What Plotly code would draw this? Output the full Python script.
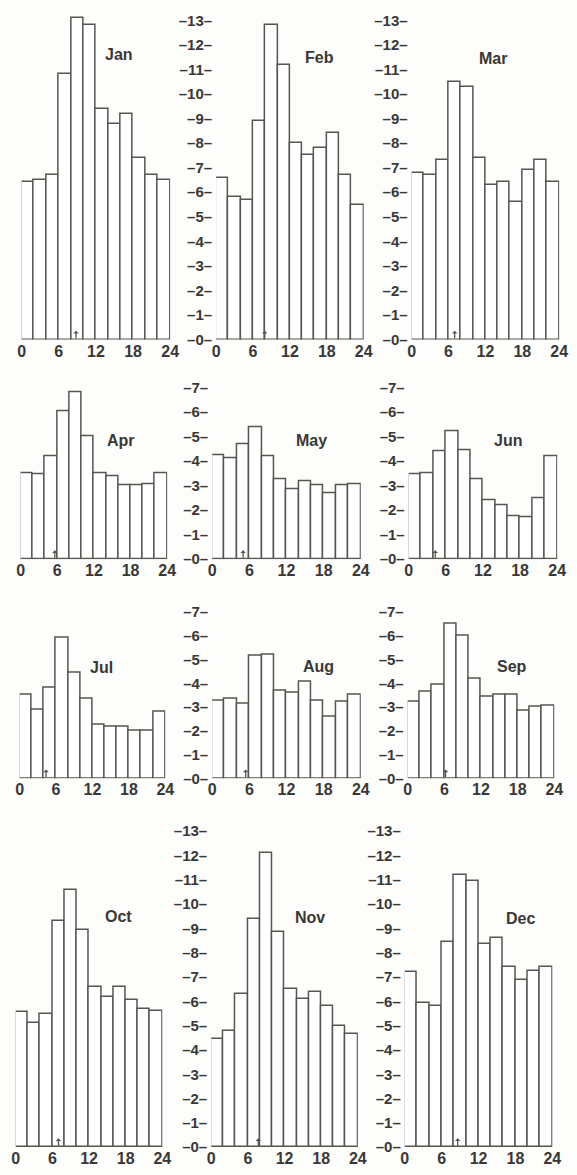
import plotly.graph_objects as go

# ---------------- data ----------------
months = ["Jan", "Feb", "Mar", "Apr", "May", "Jun",
          "Jul", "Aug", "Sep", "Oct", "Nov", "Dec"]
hour_starts = [0, 2, 4, 6, 8, 10, 12, 14, 16, 18, 20, 22]
bin_width = 2

jan = [6.4, 6.5, 6.7, 10.8, 13.1, 12.8, 9.4, 8.8, 9.2, 7.4, 6.7, 6.5]
feb = [6.6, 5.8, 5.7, 8.9, 12.8, 11.2, 8.0, 7.5, 7.8, 8.4, 6.7, 5.5]
mar = [6.8, 6.7, 7.3, 10.5, 10.3, 7.4, 6.3, 6.4, 5.6, 6.9, 7.3, 6.4]
apr = [3.5, 3.45, 4.2, 6.05, 6.8, 5.0, 3.5, 3.4, 3.0, 3.0, 3.05, 3.5]
may = [4.25, 4.1, 4.7, 5.4, 4.2, 3.25, 2.85, 3.2, 3.0, 2.7, 3.0, 3.05]
jun = [3.45, 3.5, 4.4, 5.2, 4.45, 3.25, 2.4, 2.2, 1.75, 1.7, 2.5, 4.2]
jul = [3.5, 2.9, 3.8, 5.9, 4.45, 3.35, 2.25, 2.15, 2.15, 2.0, 2.0, 2.8]
aug = [3.25, 3.35, 3.15, 5.15, 5.2, 3.7, 3.6, 4.05, 3.25, 2.6, 3.2, 3.5]
sep = [3.2, 3.65, 3.95, 6.5, 6.0, 4.2, 3.45, 3.5, 3.5, 2.85, 3.0, 3.05]
oct_ = [5.55, 5.1, 5.5, 9.3, 10.6, 8.95, 6.6, 6.2, 6.6, 6.05, 5.7, 5.6]
nov = [4.45, 4.8, 6.3, 9.4, 12.1, 8.85, 6.5, 6.1, 6.4, 5.8, 5.0, 4.65]
dec = [7.2, 5.95, 5.8, 8.45, 11.2, 10.95, 8.35, 8.6, 7.4, 6.9, 7.25, 7.4]

# small arrow marks at the base of each panel (hour)
marks = [8.8, 7.9, 7.0, 5.6, 5.0, 4.3, 4.35, 5.4, 6.2, 7.0, 7.7, 8.6]

series = [jan, feb, mar, apr, may, jun, jul, aug, sep, oct_, nov, dec]

x_ticks = [0, 6, 12, 18, 24]
y_ticks_big = list(range(0, 14))
y_ticks_small = list(range(0, 8))

# ---------------- layout geometry (pixels) ----------------
W, H = 577, 1175
col_px = [
    [(18, 170), (217, 368), (417, 568)],
    [(17, 167), (213, 365), (414, 566)],
    [(16, 165), (213, 365), (413, 563)],
    [(12, 162), (212, 362), (410, 561)],
]
row_px = [(11.0, 340.5), (381.5, 562.0), (608.0, 783.0), (829.0, 1155.0)]
row_top = [13.3, 7.3, 7.3, 13.3]
label_pos = [(15.8, 11.6), (16.8, 11.5), (13.2, 11.45),
             (16.5, 4.86), (16.1, 4.86), (16.1, 4.86),
             (13.5, 4.67), (17.2, 4.7), (17.1, 4.7),
             (16.8, 9.5), (16.2, 9.45), (18.8, 9.4)]

ink = "#585450"
text_col = "#3a3836"
font_fam = "Liberation Sans Narrow, Liberation Sans, Arial, sans-serif"

fig = go.Figure()
layout = dict(
    width=W, height=H,
    margin=dict(l=0, r=0, t=0, b=0),
    paper_bgcolor="#fdfdfb",
    plot_bgcolor="rgba(0,0,0,0)",
    showlegend=False,
    bargap=0,
)
annotations = []

bin_centres = [h + bin_width / 2 for h in hour_starts]

for i, (m, vals) in enumerate(zip(months, series)):
    r, c = divmod(i, 3)
    n = i + 1
    xa = "x" if n == 1 else f"x{n}"
    ya = "y" if n == 1 else f"y{n}"
    fig.add_trace(go.Bar(
        x=bin_centres, y=vals, width=[bin_width] * len(vals),
        marker=dict(color="white", line=dict(color=ink, width=1.5)),
        xaxis=xa, yaxis=ya, hoverinfo="x+y",
    ))
    x0, x1 = col_px[r][c]
    y0, y1 = row_px[r]
    px_per_unit = (y1 - y0) / row_top[r]
    ticks = y_ticks_big if row_top[r] > 10 else y_ticks_small
    layout["xaxis" if n == 1 else f"xaxis{n}"] = dict(
        domain=[x0 / W, x1 / W], range=[0, 24], anchor=ya,
        tickvals=x_ticks, ticktext=[str(t) for t in x_ticks],
        showgrid=False, zeroline=False, showline=False, ticks="",
        tickfont=dict(family=font_fam, size=16, color=text_col,
                      weight="bold"),
        ticklabelstandoff=0, fixedrange=True,
    )
    layout["yaxis" if n == 1 else f"yaxis{n}"] = dict(
        domain=[1 - y1 / H, 1 - y0 / H], range=[0, row_top[r]],
        anchor=xa, showgrid=False, zeroline=False, showline=False,
        tickvals=ticks, ticktext=[f"\u2013{t}\u2013" for t in ticks],
        showticklabels=(c != 0), ticks="",
        tickfont=dict(family=font_fam, size=15, color=text_col,
                      weight="bold"),
        ticklabelstandoff=3, fixedrange=True,
    )
    lx, ly = label_pos[i]
    annotations.append(dict(
        x=lx, y=ly, xref=xa, yref=ya, text=m, showarrow=False,
        font=dict(family=font_fam, size=16, color=text_col, weight="bold"),
    ))
    # small upward arrow at base
    annotations.append(dict(
        x=marks[i], y=9 / px_per_unit, xref=xa, yref=ya, text="",
        showarrow=True, arrowhead=1, arrowsize=0.7, arrowwidth=1.3,
        arrowcolor=ink, ax=0, ay=9, standoff=0, startstandoff=0,
    ))

layout["annotations"] = annotations
fig.update_layout(**layout)
fig.write_html(
    "out.html",
    config={"displayModeBar": False},
    post_script="document.body.style.margin='0';"
                "document.body.style.background='#fdfdfb';",
)
